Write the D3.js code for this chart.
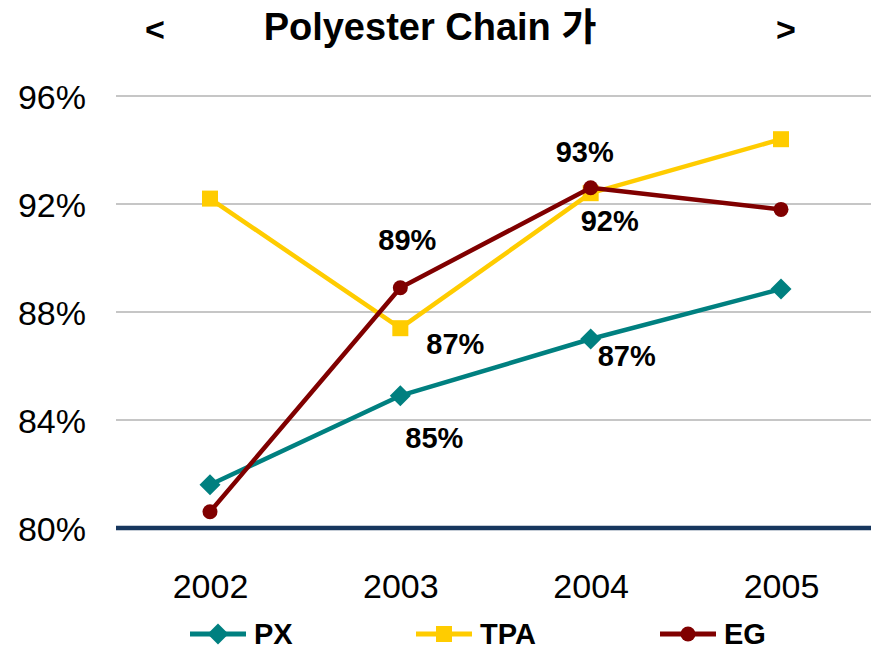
<!DOCTYPE html>
<html>
<head>
<meta charset="utf-8">
<script src="https://cdn.jsdelivr.net/npm/d3@7"></script>
<style>
body { margin: 0; background: #fff; }
text { font-family: "Liberation Sans", Arial, "Noto Sans CJK KR", sans-serif; }
</style>
</head>
<body>
<div id="viz"></div>
<script>
var years = ["2002", "2003", "2004", "2005"];
var pxValues = [81.6, 84.9, 87.0, 88.85];
var tpaValues = [92.2, 87.4, 92.4, 94.4];
var egValues = [80.6, 88.9, 92.6, 91.8];
var yTicks = [80, 84, 88, 92, 96];

// labels shown on the chart: [series, year index, text, dx, dy]
var pointLabels = [
	["EG", 1, "89%", 7, -45],
	["TPA", 1, "87%", 55, 18],
	["PX", 1, "85%", 34, 45],
	["EG", 2, "93%", -6, -33],
	["TPA", 2, "92%", 19, 30],
	["PX", 2, "87%", 36, 19]
];

var W = 871, H = 652;
var svg = d3.select("#viz").append("svg")
	.attr("width", W)
	.attr("height", H);

var x = d3.scalePoint()
	.domain(years)
	.range([210, 781]);

var y = d3.scaleLinear()
	.domain([80, 96])
	.range([528, 96]);

var series = [
	{ name: "PX", values: pxValues, color: "#008080", shape: "diamond" },
	{ name: "TPA", values: tpaValues, color: "#FFCC00", shape: "square" },
	{ name: "EG", values: egValues, color: "#800000", shape: "circle" }
];

// grid lines
svg.selectAll(".grid")
	.data(yTicks.filter(function(t) { return t > 80; }))
	.enter().append("line")
	.attr("x1", 116).attr("x2", W)
	.attr("y1", function(d) { return y(d); })
	.attr("y2", function(d) { return y(d); })
	.attr("stroke", "#c6c6c6")
	.attr("stroke-width", 1.8);

// y axis labels
var yAxis = d3.axisLeft(y)
	.tickValues(yTicks)
	.tickSize(0)
	.tickPadding(0)
	.tickFormat(function(d) { return d + "%"; });
var gy = svg.append("g").attr("transform", "translate(86,0)").call(yAxis);
gy.select(".domain").remove();
gy.selectAll("text")
	.attr("font-size", 34)
	.attr("font-family", "'Liberation Sans', Arial, sans-serif")
	.attr("fill", "#000")
	.attr("dy", "0.36em");

// x axis labels
var xAxis = d3.axisBottom(x).tickSize(0).tickPadding(0);
var gx = svg.append("g").attr("transform", "translate(0,574)").call(xAxis);
gx.select(".domain").remove();
gx.selectAll("text")
	.attr("font-size", 34)
	.attr("font-family", "'Liberation Sans', Arial, sans-serif")
	.attr("fill", "#000")
	.attr("dy", "0.72em");

// baseline
svg.append("line")
	.attr("x1", 116).attr("x2", W)
	.attr("y1", y(80)).attr("y2", y(80))
	.attr("stroke", "#17375E")
	.attr("stroke-width", 4.5);

var drawMarker = function(g, shape, cx, cy, color) {
	if (shape == "diamond") {
		var s = 10.5;
		g.append("polygon")
			.attr("points", cx + "," + (cy - s) + " " + (cx + s) + "," + cy + " " + cx + "," + (cy + s) + " " + (cx - s) + "," + cy)
			.attr("fill", color);
	} else if (shape == "square") {
		g.append("rect")
			.attr("x", cx - 8).attr("y", cy - 8)
			.attr("width", 16).attr("height", 16)
			.attr("fill", color);
	} else {
		g.append("circle")
			.attr("cx", cx).attr("cy", cy).attr("r", 7.5)
			.attr("fill", color);
	}
};

var line = d3.line()
	.x(function(d, i) { return x(years[i]); })
	.y(function(d) { return y(d); });

series.forEach(function(s) {
	var g = svg.append("g");
	g.append("path")
		.attr("d", line(s.values))
		.attr("fill", "none")
		.attr("stroke", s.color)
		.attr("stroke-width", 4.5)
		.attr("stroke-linejoin", "round");
	s.values.forEach(function(v, i) {
		drawMarker(g, s.shape, x(years[i]), y(v), s.color);
	});
});

// point labels
var byName = {};
series.forEach(function(s) { byName[s.name] = s; });
pointLabels.forEach(function(l) {
	var s = byName[l[0]];
	svg.append("text")
		.attr("x", x(years[l[1]]) + l[3])
		.attr("y", y(s.values[l[1]]) + l[4])
		.attr("text-anchor", "middle")
		.attr("dominant-baseline", "middle")
		.attr("font-size", 29)
		.attr("font-weight", "bold")
		.text(l[2]);
});

// title
svg.append("text").attr("x", 155).attr("y", 32)
	.attr("text-anchor", "middle").attr("dominant-baseline", "middle")
	.attr("font-size", 34).attr("font-weight", "bold").text("<");
svg.append("text").attr("x", 430).attr("y", 30)
	.attr("text-anchor", "middle").attr("dominant-baseline", "middle")
	.attr("font-size", 38).attr("font-weight", "bold").text("Polyester Chain 가");
svg.append("text").attr("x", 786).attr("y", 32)
	.attr("text-anchor", "middle").attr("dominant-baseline", "middle")
	.attr("font-size", 34).attr("font-weight", "bold").text(">");

// legend
var legendX = [190, 416, 660];
series.forEach(function(s, i) {
	var g = svg.append("g");
	var lx = legendX[i];
	g.append("line")
		.attr("x1", lx).attr("x2", lx + 56)
		.attr("y1", 634).attr("y2", 634)
		.attr("stroke", s.color)
		.attr("stroke-width", 5);
	drawMarker(g, s.shape, lx + 28, 634, s.color);
	g.append("text")
		.attr("x", lx + 64).attr("y", 636)
		.attr("dominant-baseline", "middle")
		.attr("font-size", 29).attr("font-weight", "bold")
		.text(s.name);
});
</script>
</body>
</html>
